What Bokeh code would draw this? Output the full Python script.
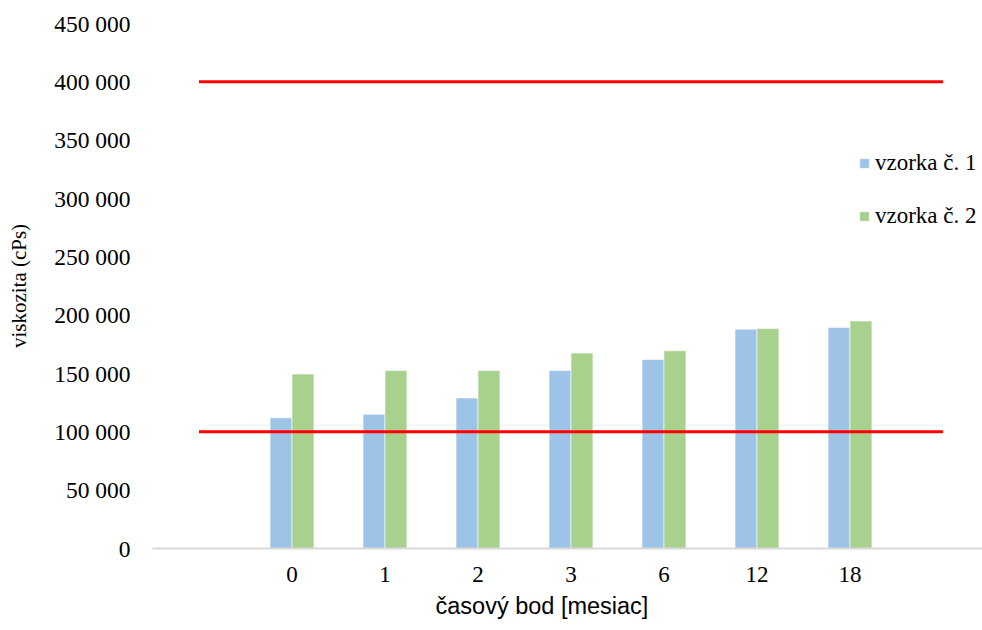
import numpy as np
from bokeh.plotting import figure
from bokeh.models import (Range1d, FixedTicker, CustomJSTickFormatter, Legend,
                          LegendItem, Title)
from bokeh.embed import file_html
from bokeh.resources import INLINE

categories = ["0", "1", "2", "3", "6", "12", "18"]
vzorka1 = [112000, 115000, 129000, 152500, 162000, 188000, 189500]
vzorka2 = [149500, 152500, 152500, 167500, 169500, 188500, 195000]
limit_low = 100000
limit_high = 400000
y_ticks = [0, 50000, 100000, 150000, 200000, 250000, 300000, 350000, 400000, 450000]

SERIF = "'Liberation Serif', serif"
BLUE = "#9DC3E6"
GREEN = "#A9D18E"

n = len(categories)
xs = np.arange(1, n + 1)
bw = 0.236

p = figure(width=982, height=630, output_backend="svg", toolbar_location=None,
           x_range=Range1d(-0.5, 8.425), y_range=Range1d(0, max(y_ticks)),
           min_border_left=152, min_border_top=23, min_border_bottom=82,
           min_border_right=0)
p.outline_line_color = None
p.xgrid.visible = False
p.ygrid.visible = False

r1 = p.vbar(x=xs - bw / 2, top=vzorka1, width=bw, fill_color=BLUE,
            line_color="white", line_width=0.6)
r2 = p.vbar(x=xs + bw / 2, top=vzorka2, width=bw, fill_color=GREEN,
            line_color="white", line_width=0.6)

for lim in (limit_low, limit_high):
    p.line(x=[0, n + 1], y=[lim, lim], line_color="#FF0000", line_width=3)

# x axis
p.xaxis.ticker = FixedTicker(ticks=[int(v) for v in xs])
p.xaxis.major_label_overrides = {int(v): c for v, c in zip(xs, categories)}
p.xaxis.axis_line_color = "#D9D9D9"
p.xaxis.axis_line_width = 2
p.xaxis.major_tick_line_color = None
p.xaxis.minor_tick_line_color = None
p.xaxis.major_tick_out = 0
p.xaxis.major_tick_in = 0
p.xaxis.minor_tick_out = 0
p.xaxis.major_label_text_font = SERIF
p.xaxis.major_label_text_font_size = "23px"
p.xaxis.major_label_text_color = "#000000"
p.xaxis.major_label_standoff = 18

# y axis
p.yaxis.ticker = FixedTicker(ticks=y_ticks)
p.yaxis.formatter = CustomJSTickFormatter(
    code="return Math.round(tick).toString().replace(/\\B(?=(\\d{3})+(?!\\d))/g, ' ');")
p.yaxis.axis_line_color = None
p.yaxis.major_tick_line_color = None
p.yaxis.minor_tick_line_color = None
p.yaxis.major_tick_out = 0
p.yaxis.major_tick_in = 0
p.yaxis.minor_tick_out = 0
p.yaxis.major_label_text_font = SERIF
p.yaxis.major_label_text_font_size = "23.5px"
p.yaxis.major_label_text_color = "#000000"
p.yaxis.major_label_standoff = 22
p.yaxis.axis_label = "viskozita (cPs)"
p.yaxis.axis_label_text_font = SERIF
p.yaxis.axis_label_text_font_size = "21px"
p.yaxis.axis_label_text_font_style = "normal"
p.yaxis.axis_label_text_color = "#000000"
p.yaxis.axis_label_standoff = 20

legend = Legend(items=[LegendItem(label="vzorka č. 1", renderers=[r1]),
                       LegendItem(label="vzorka č. 2", renderers=[r2])],
                location=(706, 317), glyph_width=12, glyph_height=12,
                label_text_font=SERIF, label_text_font_size="23px",
                label_text_color="#000000", label_standoff=5, spacing=23,
                label_height=30, padding=0, margin=0, border_line_color=None,
                background_fill_alpha=0)
p.add_layout(legend)

xt = Title(text="časový bod [mesiac]", align="left", offset=283,
           text_font="Liberation Sans", text_font_size="23.5px",
           text_font_style="normal", text_color="#000000", standoff=13)
p.add_layout(xt, "below")

open("out.html", "w").write(file_html(p, INLINE))
